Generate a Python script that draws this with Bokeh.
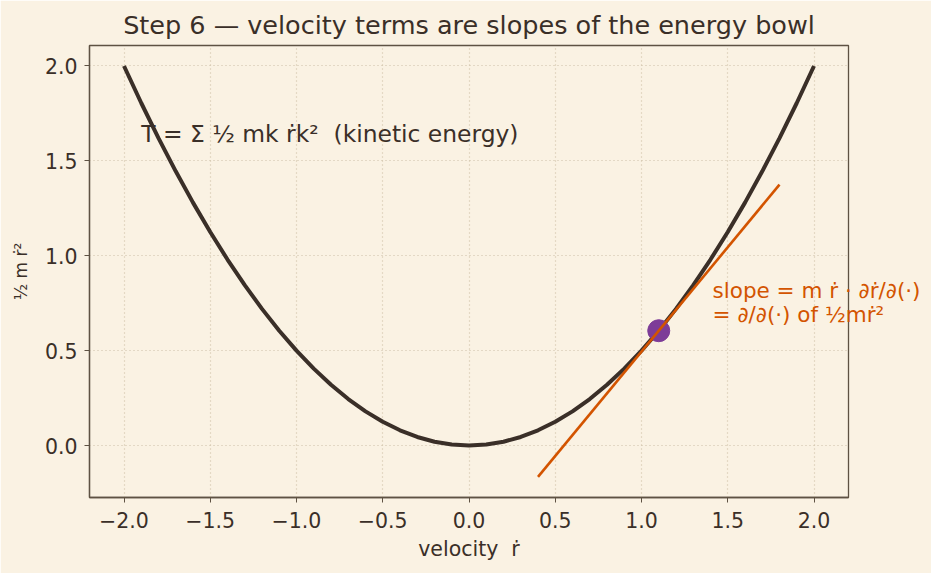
from bokeh.plotting import figure
from bokeh.models import Range1d, FixedTicker, CustomJSTickFormatter
from bokeh.core.properties import value
from bokeh.embed import file_html
from bokeh.resources import INLINE

# parabola samples (velocity, kinetic energy)
curve_x = [-2.0, -1.9, -1.8, -1.7, -1.6, -1.5, -1.4, -1.3, -1.2, -1.1, -1.0,
           -0.9, -0.8, -0.7, -0.6, -0.5, -0.4, -0.3, -0.2, -0.1, 0.0,
           0.1, 0.2, 0.3, 0.4, 0.5, 0.6, 0.7, 0.8, 0.9, 1.0,
           1.1, 1.2, 1.3, 1.4, 1.5, 1.6, 1.7, 1.8, 1.9, 2.0]
curve_y = [2.0, 1.805, 1.62, 1.445, 1.28, 1.125, 0.98, 0.845, 0.72, 0.605, 0.5,
           0.405, 0.32, 0.245, 0.18, 0.125, 0.08, 0.045, 0.02, 0.005, 0.0,
           0.005, 0.02, 0.045, 0.08, 0.125, 0.18, 0.245, 0.32, 0.405, 0.5,
           0.605, 0.72, 0.845, 0.98, 1.125, 1.28, 1.445, 1.62, 1.805, 2.0]
tangent_x = [0.4, 1.8]
tangent_y = [-0.165, 1.375]
point_x = [1.1]
point_y = [0.605]
x_ticks = [-2.0, -1.5, -1.0, -0.5, 0.0, 0.5, 1.0, 1.5, 2.0]
y_ticks = [0.0, 0.5, 1.0, 1.5, 2.0]

BG = "#FAF2E3"
INK = "#3A2F28"
FRAME = "#5E5243"
ORANGE = "#D35400"
PURPLE = "#7D3C98"
FONT = "DejaVu Sans"
NB = "\u00A0"

note_text = ["T = \u03A3 \u00BD mk \u1E59k\u00B2" + NB + NB + "(kinetic energy)"]
slope_text = ["slope = m \u1E59 \u00B7 \u2202\u1E59/\u2202(\u00B7)",
              "= \u2202/\u2202(\u00B7) of \u00BDm\u1E59\u00B2"]

p = figure(width=931, height=573, output_backend="svg", toolbar_location=None,
           x_range=Range1d(-2.2, 2.2), y_range=Range1d(-0.274, 2.108),
           min_border_left=89, min_border_right=83, min_border_top=45, min_border_bottom=76)
p.background_fill_color = BG
p.border_fill_color = BG
p.outline_line_color = FRAME
p.outline_line_width = 1.3

p.title.text = "Step 6 \u2014 velocity terms are slopes of the energy bowl"
p.title.text_font = FONT
p.title.text_font_size = "25.5px"
p.title.text_font_style = "normal"
p.title.text_color = INK
p.title.align = "center"
p.title.offset = 0
p.title.standoff = 11

fmt = CustomJSTickFormatter(code="return tick.toFixed(1).replace('-', '\u2212');")
for ax, ticks in ((p.xaxis[0], x_ticks), (p.yaxis[0], y_ticks)):
    ax.ticker = FixedTicker(ticks=ticks)
    ax.formatter = fmt
    ax.minor_tick_line_color = None
    ax.major_tick_in = 0
    ax.major_tick_out = 5
    ax.major_tick_line_color = FRAME
    ax.axis_line_color = FRAME
    ax.axis_line_width = 1.3
    ax.major_label_text_font = FONT
    ax.major_label_text_font_size = "20.5px"
    ax.major_label_text_color = INK
    ax.axis_label_text_font = FONT
    ax.axis_label_text_font_style = "normal"
    ax.axis_label_text_color = INK

p.xaxis.axis_label = "velocity" + NB + NB + "\u1E59"
p.xaxis.axis_label_text_font_size = "20.5px"
p.xaxis.major_label_standoff = 9
p.xaxis.axis_label_standoff = 6
p.yaxis.axis_label = "\u00BD m \u1E59\u00B2"
p.yaxis.axis_label_text_font_size = "17px"
p.yaxis.major_label_standoff = 7
p.yaxis.axis_label_standoff = 11

p.grid.grid_line_color = "#CDBFA6"
p.grid.grid_line_dash = "1 3"
p.grid.grid_line_width = 1.2

p.line(curve_x, curve_y, line_color=INK, line_width=4)
p.scatter(point_x, point_y, size=22, fill_color=PURPLE, line_color=PURPLE)
p.line(tangent_x, tangent_y, line_color=ORANGE, line_width=2.6)

p.text(x=[-1.9], y=[1.642], text=note_text, text_font=value(FONT), text_font_size="23.4px",
       text_color=INK, text_baseline="alphabetic", level="overlay")
p.text(x=[1.412, 1.412], y=[0.816, 0.689], text=slope_text, text_font=value(FONT),
       text_font_size="21.5px", text_color=ORANGE, text_baseline="alphabetic", level="overlay")

open("out.html", "w").write(file_html(p, INLINE))
